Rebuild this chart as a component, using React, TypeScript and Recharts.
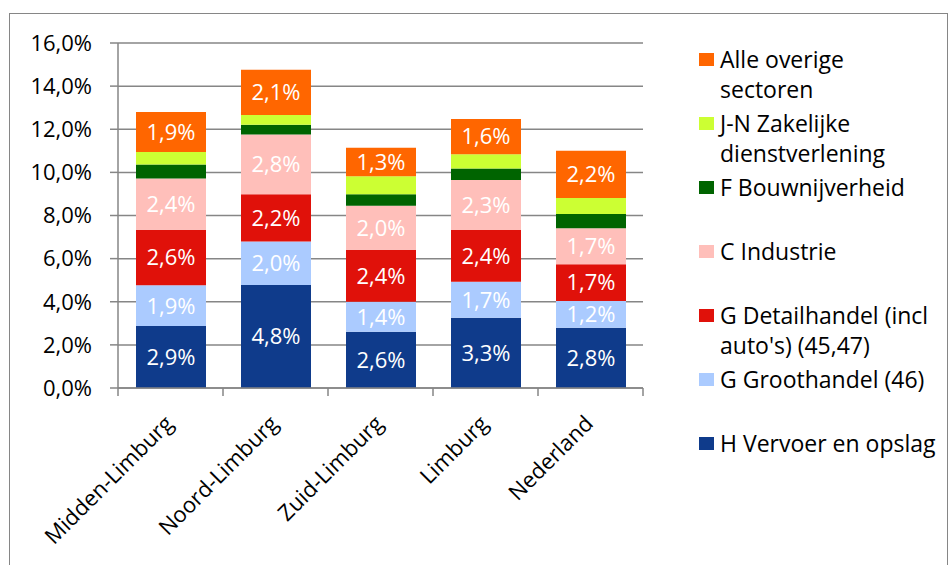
import React from 'react';
import { Bar, BarChart, CartesianGrid, LabelList, Legend, XAxis, YAxis } from 'recharts';

const regions = ['Midden-Limburg', 'Noord-Limburg', 'Zuid-Limburg', 'Limburg', 'Nederland'];

// aandeel per sector (%)
const vervoer = [2.87, 4.78, 2.61, 3.26, 2.8];
const groothandel = [1.89, 2.01, 1.39, 1.67, 1.24];
const detailhandel = [2.58, 2.2, 2.41, 2.4, 1.7];
const industrie = [2.38, 2.77, 2.04, 2.32, 1.67];
const bouw = [0.65, 0.45, 0.54, 0.53, 0.66];
const zakelijk = [0.57, 0.45, 0.83, 0.66, 0.74];
const overig = [1.86, 2.1, 1.32, 1.64, 2.19];

const yTicks = [0, 2, 4, 6, 8, 10, 12, 14, 16];

const series = [
  { key: 'vervoer', name: 'H Vervoer en opslag', values: vervoer, color: '#0f3b8b', label: true },
  { key: 'groot', name: 'G Groothandel (46)', values: groothandel, color: '#abcbff', label: true },
  { key: 'detail', name: "G Detailhandel (incl\nauto's) (45,47)", values: detailhandel, color: '#e0110a', label: true },
  { key: 'industrie', name: 'C Industrie', values: industrie, color: '#ffbfba', label: true },
  { key: 'bouw', name: 'F Bouwnijverheid', values: bouw, color: '#006400', label: false },
  { key: 'zakelijk', name: 'J-N Zakelijke\ndienstverlening', values: zakelijk, color: '#ccff33', label: false },
  { key: 'overig', name: 'Alle overige\nsectoren', values: overig, color: '#ff6600', label: true },
];

const data = regions.map((r, i) => {
  const row: any = { region: r };
  series.forEach(s => { row[s.key] = s.values[i]; });
  return row;
});

const FONT = '"Open Sans", sans-serif';
const GRAY = '#868686';
const fmt = (v: number) => `${v.toFixed(1).replace('.', ',')}%`;

const XTick = (props: any) => {
  const { x, y, payload, index, visibleTicksCount } = props;
  const half = 52.5;
  const tx = x + 4;
  const ty = y + 37;
  return (
    <g>
      <line x1={x - half} x2={x - half} y1={y} y2={y + 8} stroke={GRAY} strokeWidth={1.5} />
      {index === visibleTicksCount - 1 && (
        <line x1={x + half} x2={x + half} y1={y} y2={y + 8} stroke={GRAY} strokeWidth={1.5} />
      )}
      <text
        x={tx}
        y={ty}
        textAnchor="end"
        fontSize={22}
        fontFamily={FONT}
        fill="#000"
        transform={`rotate(-45, ${tx}, ${ty})`}
      >
        {payload.value}
      </text>
    </g>
  );
};

// legend in Excel order: top of the stack first
const LegendContent = () => {
  const items = [...series].reverse();
  return (
    <div style={{ fontFamily: FONT, fontSize: 23, color: '#000' }}>
      {items.map(it => (
        <div key={it.key} style={{ position: 'relative', height: 64 }}>
          <div style={{ position: 'absolute', left: 0, top: 9, width: 15, height: 13, background: it.color }} />
          <div style={{ position: 'absolute', left: 21, top: 0, lineHeight: '30px', whiteSpace: 'pre' }}>{it.name}</div>
        </div>
      ))}
    </div>
  );
};

export default function App() {
  return (
    <div style={{ position: 'absolute', left: 0, top: 0, width: 949, height: 565, background: '#fff', overflow: 'hidden' }}>
      <div style={{ position: 'absolute', left: 9, top: 13, width: 937, height: 600, border: `1.5px solid ${GRAY}` }} />
      <BarChart
        width={949}
        height={565}
        data={data}
        margin={{ top: 43, right: 306, bottom: 0, left: 0 }}
        style={{ position: 'absolute', left: 0, top: 0 }}
      >
        <CartesianGrid vertical={false} stroke={GRAY} strokeWidth={1.5} />
        <XAxis
          dataKey="region"
          height={177}
          interval={0}
          tickLine={false}
          tickSize={0}
          tickMargin={0}
          axisLine={{ stroke: GRAY, strokeWidth: 1.5 }}
          tick={XTick}
        />
        <YAxis
          width={118}
          domain={[0, 16]}
          ticks={yTicks}
          interval={0}
          tickFormatter={fmt}
          tickSize={8}
          tickMargin={18}
          tickLine={{ stroke: GRAY, strokeWidth: 1.5 }}
          axisLine={{ stroke: GRAY, strokeWidth: 1.5 }}
          tick={{ fontSize: 22, fontFamily: FONT, fill: '#000' }}
        />
        <Legend
          layout="vertical"
          align="center"
          verticalAlign="middle"
          wrapperStyle={{ left: 699, top: 44, width: 250 }}
          content={LegendContent}
        />
        {series.map(s => (
          <Bar key={s.key} dataKey={s.key} name={s.name} stackId="a" fill={s.color} barSize={70} isAnimationActive={false}>
            {s.label && (
              <LabelList
                dataKey={s.key}
                position="center"
                formatter={(v: any) => fmt(Number(v))}
                fill="#fff"
                fontSize={22}
                fontFamily={FONT}
              />
            )}
          </Bar>
        ))}
      </BarChart>
    </div>
  );
}
